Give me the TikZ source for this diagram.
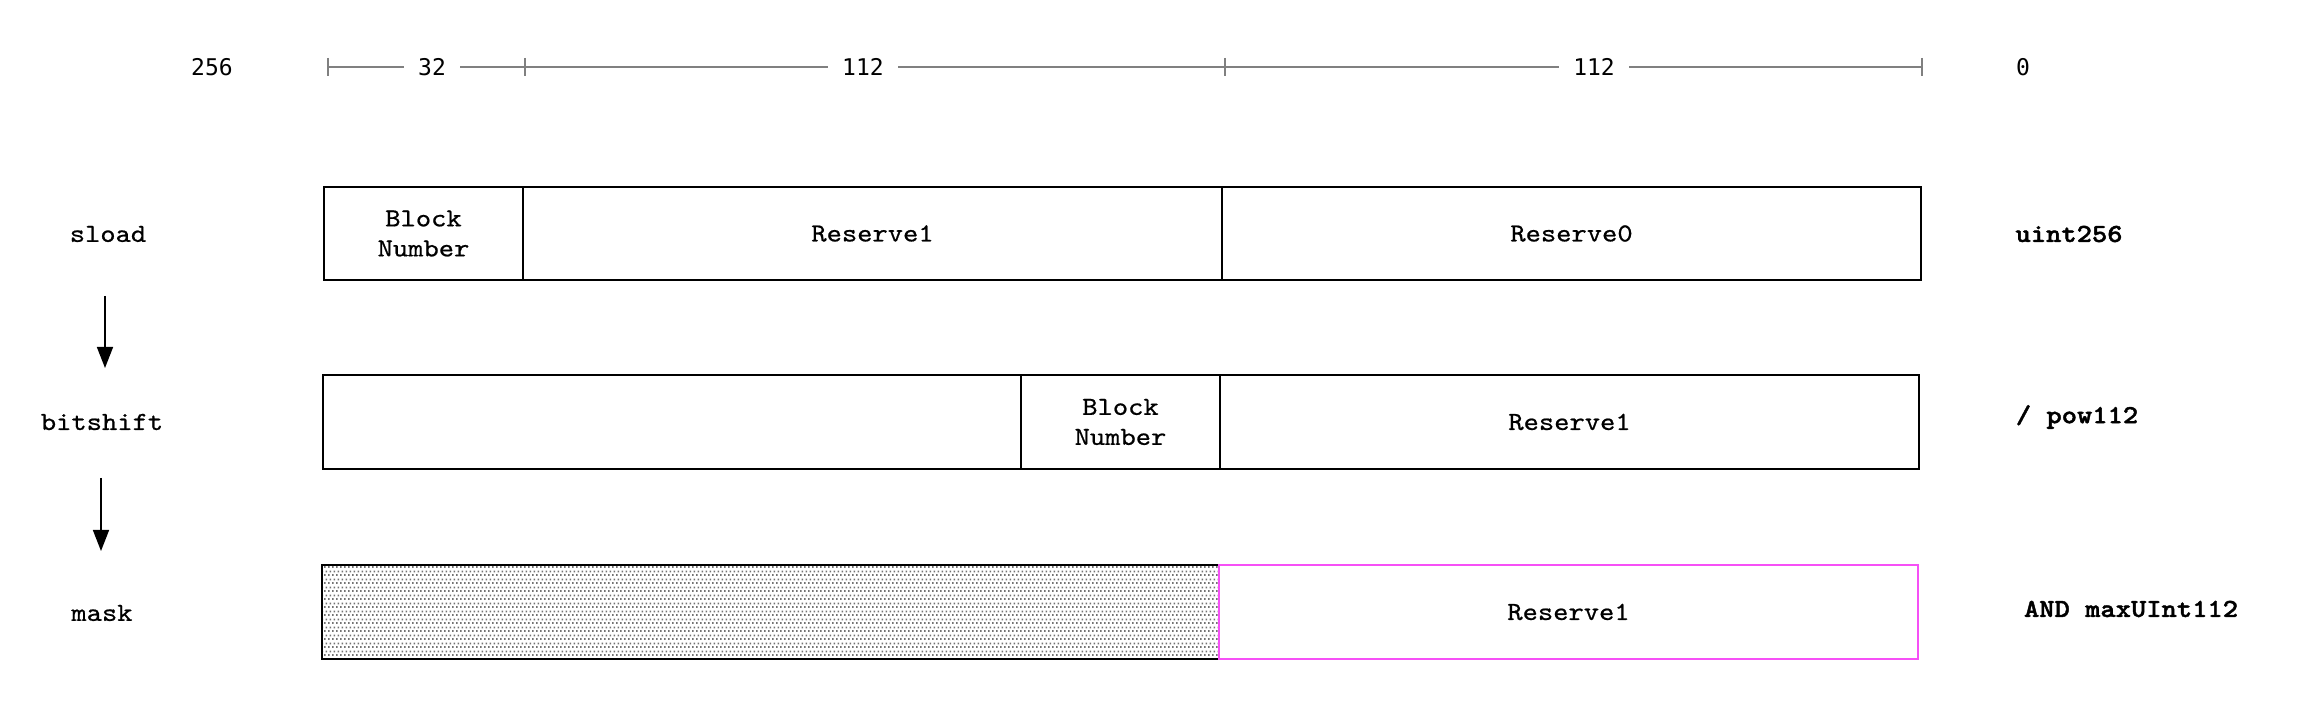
\documentclass[tikz,border=0pt]{standalone}
\usepackage{fontspec}
\setmainfont{lmmono10-regular.otf}[BoldFont=lmmonolt10-bold.otf, FakeStretch=1.12, UprightFeatures={FakeBold=0.7}, BoldFeatures={FakeBold=1.6}]
\newfontfamily\rulerfont{DejaVu Sans Mono}
\usetikzlibrary{arrows.meta,fit,patterns.meta}
\definecolor{magentaline}{RGB}{246,80,246}
\definecolor{dotgray}{RGB}{115,115,115}
\tikzdeclarepattern{name=fdots, type=uncolored,
  bottom left={(0pt,0pt)}, top right={(2pt,4pt)}, tile size={(2pt,4pt)},
  code={\fill (0pt,0pt) rectangle (1pt,1pt); \fill (1pt,2pt) rectangle (2pt,3pt);}}
\tikzset{
  txt/.style={font=\fontsize{13pt}{15pt}\selectfont, align=center, inner sep=0pt},
  optxt/.style={txt, font=\fontsize{13pt}{15pt}\selectfont\bfseries},
  rulerlbl/.style={font=\rulerfont\fontsize{11.5pt}{13pt}\selectfont, fill=white, inner xsep=7pt, inner ysep=1pt},
  cell/.style={draw=black, line width=1pt, inner sep=0pt, txt},
  pinkcell/.style={cell, draw=magentaline},
  dotcell/.style={cell, pattern={fdots}, pattern color=dotgray},
  rulerline/.style={draw=gray, line width=1pt},
  flow/.style={draw=black, line width=0.8pt, -{Triangle[length=10.5pt,width=8pt]}},
}
\begin{document}
\begin{tikzpicture}[x=0.5pt,y=-0.5pt]
\useasboundingbox (0,0) rectangle (2322,704);
% ruler
\coordinate (r0) at (328,67);
\coordinate (r1) at (525,67);
\coordinate (r2) at (1225,67);
\coordinate (r3) at (1922,67);
\draw[rulerline] (r0) -- (r3);
\foreach \c in {r0,r1,r2,r3} \draw[rulerline, line width=0.8pt] ([yshift=4.5pt]\c) -- ([yshift=-4.5pt]\c);
\node[rulerlbl, fill=none] (l256) at (212,67) {256};
\node[rulerlbl] (l32) at (432,67) {32};
\node[rulerlbl] (l112a) at (863,67) {112};
\node[rulerlbl] (l112b) at (1594,67) {112};
\node[rulerlbl, fill=none] (l0) at (2023,67) {0};
% row 1
\node[cell, fit={(324,187) (523,280)}] (bn1) {};
\node[txt] at (bn1.center) {Block\\Number};
\node[cell, fit={(523,187) (1222,280)}] (r1a) {};
\node[txt] at (r1a.center) {Reserve1};
\node[cell, fit={(1222,187) (1921,280)}] (r0a) {};
\node[txt] at (r0a.center) {Reserve0};
% row 2
\node[cell, fit={(323,375) (1021,469)}] (empty2) {};
\node[cell, fit={(1021,375) (1220,469)}] (bn2) {};
\node[txt] at (bn2.center) {Block\\Number};
\node[cell, fit={(1220,375) (1919,469)}] (r1b) {};
\node[txt] at (r1b.center) {Reserve1};
% row 3
\node[dotcell, fit={(322,565) (1219,659)}] (masked) {};
\node[pinkcell, fit={(1219,565) (1918,659)}] (r1c) {};
\node[txt] at (r1c.center) {Reserve1};
% left labels
\node[txt] (sload) at (108,234) {sload};
\node[txt] (bitshift) at (102,422) {bitshift};
\node[txt] (mask) at (102,613) {mask};
% right labels
\node[optxt] (op1) at (2069,234) {uint256};
\node[optxt] (op2) at (2077,417) {/ pow112};
\node[optxt] (op3) at (2131,609) {AND maxUInt112};
% arrows
\coordinate (a1s) at (105,296);
\coordinate (a1e) at (105,368);
\coordinate (a2s) at (101,478);
\coordinate (a2e) at (101,551);
\draw[flow] (a1s) -- (a1e);
\draw[flow] (a2s) -- (a2e);
\end{tikzpicture}
\end{document}
